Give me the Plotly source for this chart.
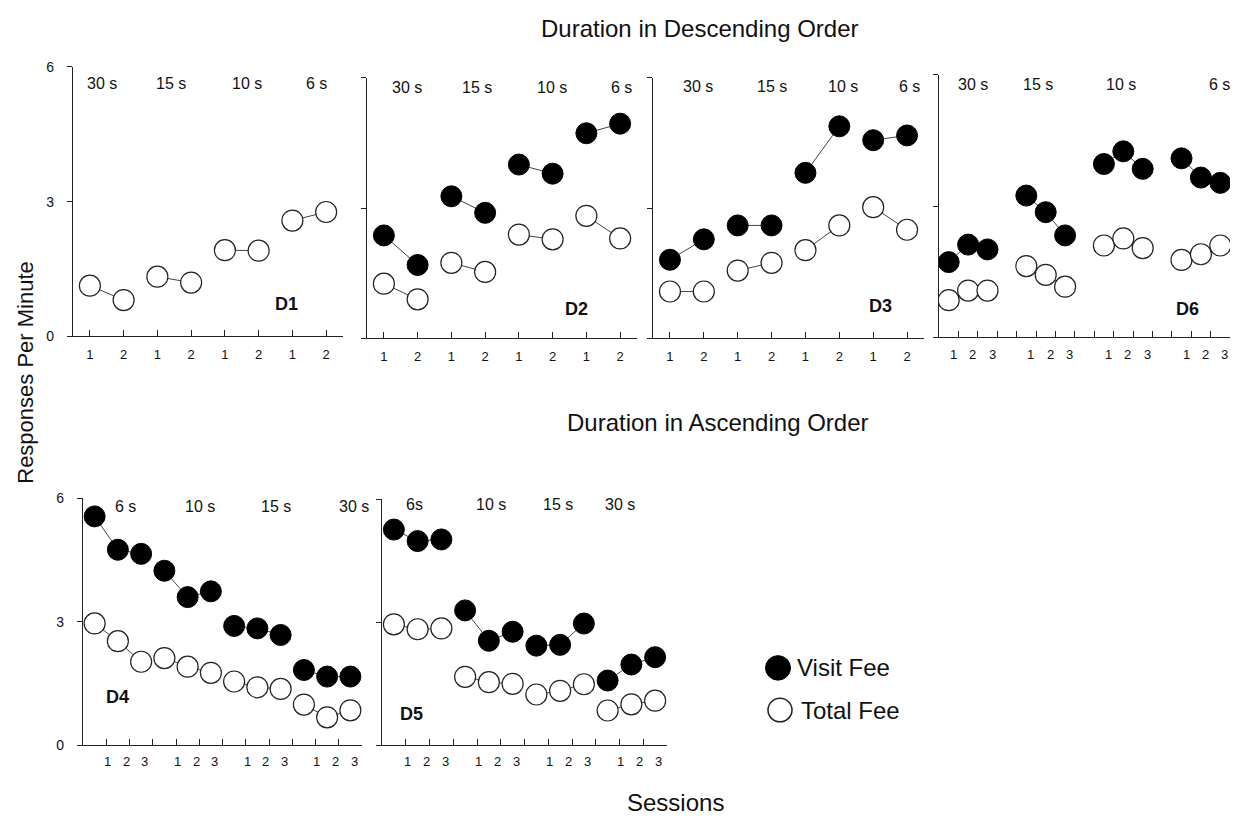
import plotly.graph_objects as go

W, H = 1239, 821

# ---------------- data ----------------
phases_desc = ["30 s", "15 s", "10 s", "6 s"]
phases_asc_d4 = ["6 s", "10 s", "15 s", "30 s"]
phases_asc_d5 = ["6s", "10 s", "15 s", "30 s"]

sessions_2 = ["1", "2"]
sessions_3 = ["1", "2", "3"]

d1_total = [1.13, 0.81, 1.33, 1.20, 1.92, 1.91, 2.58, 2.77]

d2_visit = [2.37, 1.69, 3.27, 2.89, 4.00, 3.79, 4.72, 4.94]
d2_total = [1.26, 0.90, 1.74, 1.53, 2.39, 2.28, 2.82, 2.30]

d3_visit = [1.81, 2.28, 2.60, 2.60, 3.81, 4.88, 4.56, 4.67]
d3_total = [1.08, 1.08, 1.56, 1.74, 2.03, 2.60, 3.02, 2.50]

d6_visit = [1.72, 2.12, 2.01, 3.24, 2.86, 2.33, 3.96, 4.25, 3.85, 4.09, 3.65, 3.53]
d6_total = [0.85, 1.07, 1.07, 1.63, 1.43, 1.16, 2.10, 2.26, 2.04, 1.77, 1.90, 2.10]

d4_visit = [5.56, 4.75, 4.65, 4.24, 3.60, 3.74, 2.90, 2.84, 2.68, 1.83, 1.67, 1.67]
d4_total = [2.96, 2.53, 2.03, 2.12, 1.91, 1.76, 1.55, 1.41, 1.37, 0.99, 0.68, 0.85]

d5_visit = [5.26, 4.98, 5.02, 3.29, 2.55, 2.77, 2.43, 2.45, 2.97, 1.58, 1.97, 2.15]
d5_total = [2.95, 2.83, 2.85, 1.67, 1.54, 1.50, 1.24, 1.33, 1.49, 0.85, 1.00, 1.09]

y_ticks = [0, 3, 6]

# ---------------- layout config (positions / styles) ----------------
FONT = "Arial, Liberation Sans, sans-serif"
TXT = "#111111"
AXC = "#222222"
BIG = 24

panels = [
    dict(name="D1", total=d1_total, visit=None, group=2, ngroups=4, layout="pair",
         px=(73, 343), py=(335, 60), ylabels=True, phases=phases_desc,
         phase_x=[1.36, 3.4, 5.66, 7.7], phase_y=5.63, lab=(6.84, 0.72)),
    dict(name="D2", total=d2_total, visit=d2_visit, group=2, ngroups=4, layout="pair",
         px=(367, 637), py=(337, 71), ylabels=False, phases=phases_desc,
         phase_x=[1.69, 3.76, 5.98, 8.05], phase_y=5.78, lab=(6.72, 0.68)),
    dict(name="D3", total=d3_total, visit=d3_visit, group=2, ngroups=4, layout="pair",
         px=(653, 924), py=(337, 71), ylabels=False, phases=phases_desc,
         phase_x=[1.83, 4.02, 6.12, 8.07], phase_y=5.8, lab=(7.22, 0.74)),
    dict(name="D6", total=d6_total, visit=d6_visit, group=3, ngroups=4, layout="gap",
         px=(939, 1230), py=(336, 68), ylabels=False, phases=phases_desc,
         phase_x=[1.74, 5.1, 9.36, 14.45], phase_y=5.77, lab=(12.83, 0.65)),
    dict(name="D4", total=d4_total, visit=d4_visit, group=3, ngroups=4, layout="run",
         px=(83, 362), py=(752, 500), ylabels=True, phases=phases_asc_d4,
         phase_x=[1.81, 5.03, 8.31, 11.67], phase_y=5.81, lab=(1.5, 1.17)),
    dict(name="D5", total=d5_total, visit=d5_visit, group=3, ngroups=4, layout="run",
         px=(382, 667), py=(752, 501), ylabels=False, phases=phases_asc_d5,
         phase_x=[1.37, 4.59, 7.39, 10.03], phase_y=5.86, lab=(1.26, 0.77)),
]


def positions(p):
    g, n = p["group"], p["ngroups"]
    if p["layout"] == "pair":
        return [gi * g + s + 1 for gi in range(n) for s in range(g)]
    if p["layout"] == "gap":
        return [gi * (g + 1) + s + 0.5 for gi in range(n) for s in range(g)]
    return [gi * g + s + 0.5 for gi in range(n) for s in range(g)]


def segments(xs, ys, size):
    X, Y = [], []
    for i in range(0, len(xs), size):
        X += list(xs[i:i + size]) + [None]
        Y += list(ys[i:i + size]) + [None]
    return X, Y


def note(**kw):
    d = dict(showarrow=False, xanchor="center", yanchor="middle")
    d.update(kw)
    return d


fig = go.Figure()
annotations = []
layout_axes = {}

for i, p in enumerate(panels, start=1):
    sfx = "" if i == 1 else str(i)
    xref, yref = "x" + sfx, "y" + sfx
    xs = positions(p)
    g = p["group"]

    if p["layout"] == "pair":
        xrange = [0.5, len(xs) + 0.5]
        xtickvals = list(range(1, len(xs) + 1))
        xticktext = [sessions_2[(k - 1) % 2] for k in xtickvals]
        show_xlabels = True
    elif p["layout"] == "gap":
        xrange = [0, p["ngroups"] * (g + 1) - 1]
        xtickvals = list(range(1, int(xrange[1]) + 1))
        xticktext = ["" for _ in xtickvals]
        show_xlabels = False
    else:
        xrange = [0, p["ngroups"] * g]
        xtickvals = list(range(1, int(xrange[1]) + 1))
        xticktext = ["" for _ in xtickvals]
        show_xlabels = False

    # Total fee (open circles)
    tx, ty = segments(xs, p["total"], g)
    fig.add_trace(go.Scatter(
        x=tx, y=ty, mode="lines+markers", xaxis=xref, yaxis=yref,
        name="Total Fee", showlegend=False, hoverinfo="skip",
        line=dict(color="#444444", width=1),
        marker=dict(symbol="circle", size=21, color="white",
                    line=dict(color="#222222", width=1.2)),
    ))
    # Visit fee (filled circles)
    if p["visit"] is not None:
        vx, vy = segments(xs, p["visit"], g)
        fig.add_trace(go.Scatter(
            x=vx, y=vy, mode="lines+markers", xaxis=xref, yaxis=yref,
            name="Visit Fee", showlegend=False, hoverinfo="skip",
            line=dict(color="#444444", width=1),
            marker=dict(symbol="circle", size=21, color="black",
                        line=dict(color="black", width=1)),
        ))

    x0, x1 = p["px"]
    yb, yt = p["py"]
    layout_axes["xaxis" + sfx] = dict(
        domain=[x0 / W, x1 / W], anchor=yref, range=xrange,
        showline=True, linecolor=AXC, linewidth=1.4, showgrid=False, zeroline=False,
        ticks="inside", ticklen=6, tickcolor=AXC, tickwidth=1,
        tickvals=xtickvals, ticktext=xticktext, showticklabels=show_xlabels,
        ticklabelstandoff=6, tickfont=dict(family=FONT, size=13, color=TXT),
        fixedrange=True,
    )
    layout_axes["yaxis" + sfx] = dict(
        domain=[1 - yb / H, 1 - yt / H], anchor=xref, range=[0, 6],
        showline=True, linecolor=AXC, linewidth=1.4, showgrid=False, zeroline=False,
        ticks="outside", ticklen=5, tickcolor=AXC, tickwidth=1,
        tickvals=y_ticks, showticklabels=p["ylabels"],
        ticklabelstandoff=10, tickfont=dict(family=FONT, size=14, color=TXT),
        fixedrange=True,
    )

    # phase labels
    for lab, lx in zip(p["phases"], p["phase_x"]):
        annotations.append(note(x=lx, y=p["phase_y"], xref=xref, yref=yref, text=lab,
                                font=dict(family=FONT, size=16, color=TXT)))
    # participant label
    annotations.append(note(x=p["lab"][0], y=p["lab"][1], xref=xref, yref=yref,
                            text="<b>%s</b>" % p["name"],
                            font=dict(family=FONT, size=18, color=TXT)))
    # session labels for 3-session panels
    if p["layout"] == "gap":
        for gi in range(p["ngroups"]):
            for s, t in enumerate(sessions_3):
                annotations.append(note(x=gi * (g + 1) + s + 0.74, y=0, xref=xref,
                                        yref=yref + " domain", yshift=-17, text=t,
                                        font=dict(family=FONT, size=13, color=TXT)))
    elif p["layout"] == "run":
        for gi in range(p["ngroups"]):
            for s, t in enumerate(sessions_3):
                annotations.append(note(x=gi * g + 1.06 + 0.8 * s, y=0, xref=xref,
                                        yref=yref + " domain", yshift=-16, text=t,
                                        font=dict(family=FONT, size=13, color=TXT)))

# titles and key text
annotations += [
    note(x=700 / W, y=1 - 21 / H, xref="paper", yref="paper", text="Duration in Descending Order",
         font=dict(family=FONT, size=BIG, color=TXT)),
    note(x=718 / W, y=1 - 423 / H, xref="paper", yref="paper", text="Duration in Ascending Order",
         font=dict(family=FONT, size=BIG, color=TXT)),
    note(x=26 / W, y=1 - 372 / H, xref="paper", yref="paper", text="Responses Per Minute",
         textangle=-90, font=dict(family=FONT, size=22, color=TXT)),
    note(x=675 / W, y=1 - 810 / H, xref="paper", yref="paper", text="Sessions",
         font=dict(family=FONT, size=BIG, color=TXT)),
    note(x=795 / W, y=1 - 673 / H, xref="paper", yref="paper", text="Visit Fee", xanchor="left",
         font=dict(family=FONT, size=BIG, color=TXT)),
    note(x=799 / W, y=1 - 716 / H, xref="paper", yref="paper", text="Total Fee", xanchor="left",
         font=dict(family=FONT, size=BIG, color=TXT)),
]

# legend key symbols
R = 12.5
shapes = [
    dict(type="circle", xref="paper", yref="paper",
         x0=(778 - R) / W, x1=(778 + R) / W, y0=1 - (673 + R) / H, y1=1 - (673 - R) / H,
         fillcolor="black", line=dict(color="black", width=1)),
    dict(type="circle", xref="paper", yref="paper",
         x0=(780 - 12) / W, x1=(780 + 12) / W, y0=1 - (716 + 12) / H, y1=1 - (716 - 12) / H,
         fillcolor="white", line=dict(color="#222222", width=1.5)),
]

fig.update_layout(
    width=W, height=H, margin=dict(l=0, r=0, t=0, b=0),
    paper_bgcolor="white", plot_bgcolor="white",
    showlegend=False, annotations=annotations, shapes=shapes,
    font=dict(family=FONT, color=TXT),
    **layout_axes,
)

fig.write_html(
    "out.html",
    config={"displayModeBar": False},
    post_script="document.body.style.margin='0';document.body.style.overflow='hidden';",
)
